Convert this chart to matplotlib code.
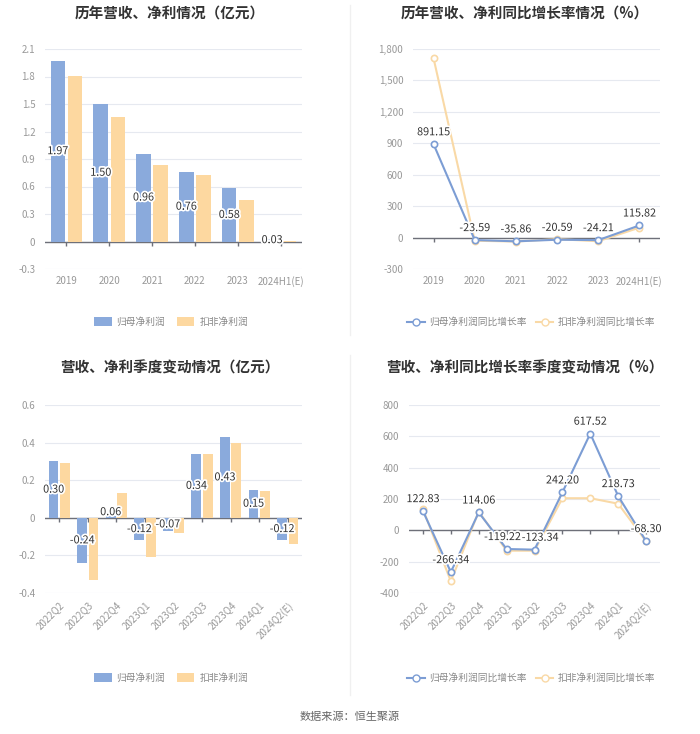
import numpy as np
import matplotlib
matplotlib.use('Agg')
import matplotlib.pyplot as plt
import matplotlib.patheffects as pe
from matplotlib.lines import Line2D
from matplotlib.patches import Patch

plt.rcParams['font.family'] = ['Noto Sans CJK SC', 'DejaVu Sans']

# ---- data ----
years = ['2019', '2020', '2021', '2022', '2023', '2024H1(E)']
profit_year = [1.97, 1.50, 0.96, 0.76, 0.58, 0.03]
deduct_year = [1.81, 1.36, 0.83, 0.73, 0.45, 0.01]

growth_year = [891.15, -23.59, -35.86, -20.59, -24.21, 115.82]
deduct_growth_year = [1710, -30, -38, -15, -35, 95]

quarters = ['2022Q2', '2022Q3', '2022Q4', '2023Q1', '2023Q2', '2023Q3', '2023Q4', '2024Q1', '2024Q2(E)']
profit_q = [0.30, -0.24, 0.01, -0.12, -0.07, 0.34, 0.43, 0.15, -0.12]
profit_q_labels = ['0.30', '-0.24', '0.06', '-0.12', '-0.07', '0.34', '0.43', '0.15', '-0.12']
profit_q_label_vals = [0.30, -0.24, 0.06, -0.12, -0.07, 0.34, 0.43, 0.15, -0.12]
deduct_q = [0.29, -0.33, 0.13, -0.21, -0.08, 0.34, 0.40, 0.14, -0.14]

growth_q = [122.83, -266.34, 114.06, -119.22, -123.34, 242.20, 617.52, 218.73, -68.30]
deduct_growth_q = [135, -325, 120, -130, -130, 205, 205, 170, -70]

W, H = 700, 734
BLUE = '#8aaadc'
ORANGE = '#fdd8a0'
ORANGE_LINE = '#f9d9a6'
GRID = '#e6e9f0'
AXIS = '#6e7079'
TICKC = '#999999'

fig = plt.figure(figsize=(W / 100, H / 100), dpi=100)


def px_axes(x0, x1, ytop, ybot):
    return fig.add_axes([x0 / W, 1 - ybot / H, (x1 - x0) / W, (ybot - ytop) / H])


def style(ax, yticks, fmt, ncat):
    ax.set_xlim(-0.5, ncat - 0.5)
    ax.set_ylim(yticks[0], yticks[-1])
    ax.set_yticks(yticks)
    ax.set_yticklabels([fmt(v) for v in yticks], color=TICKC, fontsize=7)
    ax.tick_params(axis='y', length=0, pad=7)
    ax.tick_params(axis='x', length=0, pad=5, labelcolor=TICKC, labelsize=7)
    for s in ax.spines.values():
        s.set_visible(False)
    ax.set_axisbelow(True)
    ax.grid(axis='y', color=GRID, linewidth=0.8)
    ax.axhline(0, color=AXIS, linewidth=1, zorder=2)
    d = (yticks[-1] - yticks[0]) * 0.022
    ax.vlines(np.arange(ncat), 0, -d, color=AXIS, linewidth=1, zorder=2)


def set_cats(ax, cats, rot):
    x = np.arange(len(cats))
    ax.set_xticks(x)
    if rot:
        ax.set_xticklabels(cats, rotation=45, ha='right', rotation_mode='anchor')
    else:
        ax.set_xticklabels(cats)


def bar_chart(ax, cats, a, b, labels, label_vals, yticks, fmt, rot=0):
    x = np.arange(len(cats))
    w = 0.34
    ax.bar(x - 0.2, a, w, color=BLUE, zorder=3)
    ax.bar(x + 0.2, b, w, color=ORANGE, zorder=3)
    style(ax, yticks, fmt, len(cats))
    set_cats(ax, cats, rot)
    for xi, t, v in zip(x, labels, label_vals):
        ax.text(xi - 0.2, v / 2, t, ha='center', va='center', fontsize=7.8, color='#333333', zorder=5,
                path_effects=[pe.withStroke(linewidth=2.5, foreground='white')])


def line_chart(ax, cats, a, b, yticks, fmt, rot=0, nudge=None):
    x = np.arange(len(cats))
    nudge = nudge or {}
    ax.plot(x, b, color=ORANGE_LINE, linewidth=1.5, marker='o', markersize=4.5,
            markerfacecolor='white', markeredgecolor=ORANGE_LINE, markeredgewidth=1.2, zorder=3)
    ax.plot(x, a, color='#7c9dd4', linewidth=1.5, marker='o', markersize=4.5,
            markerfacecolor='white', markeredgecolor='#7c9dd4', markeredgewidth=1.2, zorder=4)
    style(ax, yticks, fmt, len(cats))
    set_cats(ax, cats, rot)
    for i, (xi, v) in enumerate(zip(x, a)):
        ax.annotate(f'{v:.2f}', (xi, v), xytext=(nudge.get(i, 0), 5), textcoords='offset points',
                    ha='center', va='bottom', fontsize=7.8, color='#333333', zorder=5,
                    path_effects=[pe.withStroke(linewidth=2.5, foreground='white')])


fmt_dec = lambda v: '0' if abs(v) < 1e-9 else f'{v:g}'
fmt_int = lambda v: f'{v:,.0f}'

ax1 = px_axes(45, 302, 49, 269)
bar_chart(ax1, years, profit_year, deduct_year, [f'{v:.2f}' for v in profit_year], profit_year,
          np.round(np.arange(-0.3, 2.11, 0.3), 1), fmt_dec)

ax2 = px_axes(413, 660, 49, 269)
line_chart(ax2, years, growth_year, deduct_growth_year, np.arange(-300, 1801, 300), fmt_int)

ax3 = px_axes(45, 302, 405, 593)
bar_chart(ax3, quarters, profit_q, deduct_q, profit_q_labels, profit_q_label_vals,
          np.round(np.arange(-0.4, 0.61, 0.2), 1), fmt_dec, rot=45)

ax4 = px_axes(409, 660, 405, 593)
line_chart(ax4, quarters, growth_q, deduct_growth_q, np.arange(-400, 801, 200), fmt_int, rot=45,
           nudge={3: -3, 4: 4})

# titles
for x, y, t in [(170, 14, '历年营收、净利情况（亿元）'), (525, 14, '历年营收、净利同比增长率情况（%）'),
                (170, 368, '营收、净利季度变动情况（亿元）'), (525, 368, '营收、净利同比增长率季度变动情况（%）')]:
    fig.text(x / W, 1 - y / H, t, ha='center', va='center', fontsize=10.5, fontweight='bold', color='#333333')

# legends
bar_handles = [Patch(facecolor=BLUE, edgecolor='none', label='归母净利润'),
               Patch(facecolor=ORANGE, edgecolor='none', label='扣非净利润')]
line_handles = [Line2D([], [], color='#7c9dd4', marker='o', markerfacecolor='white', markersize=5,
                       linewidth=1.5, label='归母净利润同比增长率'),
                Line2D([], [], color=ORANGE_LINE, marker='o', markerfacecolor='white', markersize=5,
                       linewidth=1.5, label='扣非净利润同比增长率')]
for y in (322, 678):
    fig.legend(handles=bar_handles, loc='center', bbox_to_anchor=(171 / W, 1 - y / H), ncol=2,
               frameon=False, fontsize=7, labelcolor='#888888', handlelength=1.8, handleheight=1.0,
               columnspacing=1.2, handletextpad=0.5)
    fig.legend(handles=line_handles, loc='center', bbox_to_anchor=(531 / W, 1 - y / H), ncol=2,
               frameon=False, fontsize=7, labelcolor='#888888', handlelength=1.8,
               columnspacing=1.0, handletextpad=0.4)

# faint divider
fig.add_artist(Line2D([350 / W, 350 / W], [1 - 5 / H, 1 - 335 / H], color='#f0f0f0', linewidth=1))
fig.add_artist(Line2D([350 / W, 350 / W], [1 - 355 / H, 1 - 695 / H], color='#f0f0f0', linewidth=1))

fig.text(0.5, 1 - 717 / H, '数据来源：恒生聚源', ha='center', va='center', fontsize=8, color='#666666')

fig.savefig('out.png', dpi=100, facecolor='white')
